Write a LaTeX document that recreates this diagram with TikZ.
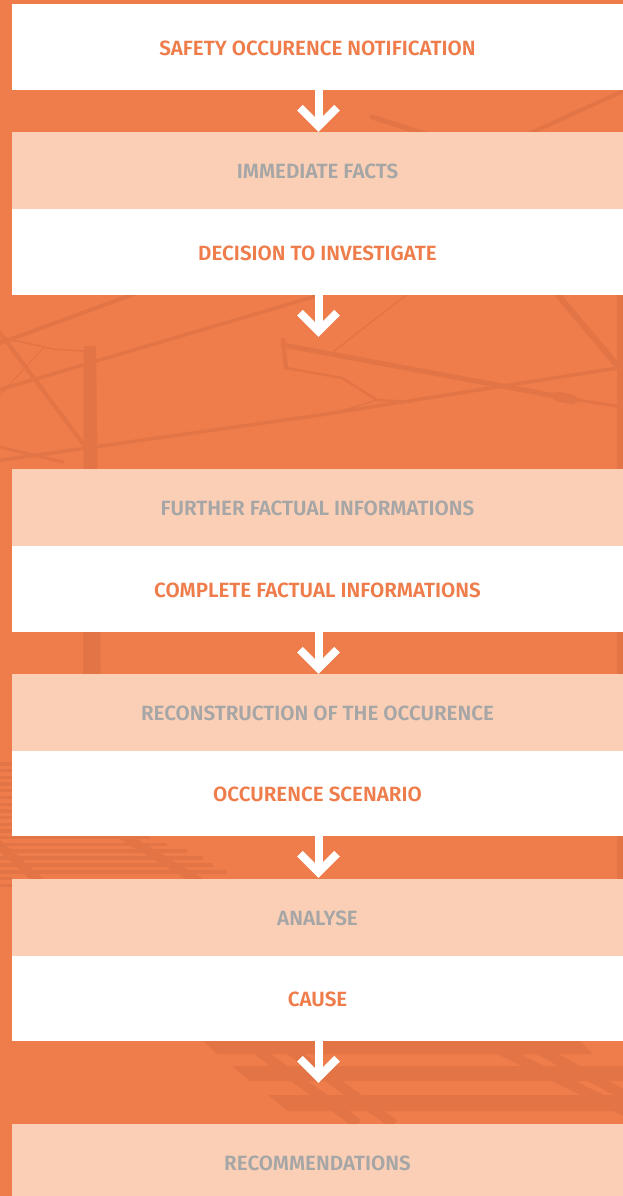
\documentclass[tikz,border=0pt]{standalone}
\usepackage{fontspec}
\usepackage{tikz}
\usetikzlibrary{calc}

\newfontfamily\boxfont{Fira Sans SemiBold}

\definecolor{bgOrange}{HTML}{EF7D4B}
\definecolor{boxPeach}{HTML}{FACFB6}
\definecolor{labelGrey}{HTML}{A6A6A6}
\definecolor{railShade}{HTML}{E37446}

\tikzset{
    whitebox/.style={fill=white, minimum width=611pt, minimum height=86pt, inner sep=0pt,
        text height=16.5pt, text depth=0pt,
        font={\boxfont\fontsize{20.6}{20.6}\selectfont}, text=bgOrange},
    peachbox/.style={fill=boxPeach, minimum width=611pt, minimum height=77pt, inner sep=0pt,
        text height=16.5pt, text depth=0pt,
        font={\boxfont\fontsize{20.6}{20.6}\selectfont}, text=labelGrey},
    stem/.style={draw=white, line width=8pt},
    chevron/.style={draw=white, line width=8pt, line join=miter},
    wire/.style={draw=railShade, line cap=round},
    tie/.style={draw=railShade, line width=3.3pt},
    rail/.style={draw=railShade, line width=10pt}
}

\begin{document}
\begin{tikzpicture}[x=1pt, y=-1pt]
        \useasboundingbox (0,0) rectangle (623,1196);
        \fill[bgOrange] (0,0) rectangle (623,1196);

        % catenary in the background
        \draw[wire, line width=5pt] (372,117) -- (432,136);
        \draw[wire, line width=4pt] (515,140) -- (630,88);
        \draw[wire, line width=4pt] (-5,345) -- (145,290);
        \draw[wire, line width=4pt] (-5,326) -- (84,445);
        \fill[railShade] (84,346) -- (96,346) -- (101,700) -- (83,700) -- cycle;
        \draw[wire, line width=3.5pt] (-5,391) -- (330,292);
        \draw[wire, line width=3.5pt] (-5,461) -- (320,415) -- (630,366);
        \draw[wire, line width=1.5pt] (0,340) -- (17,341) -- (53,349) -- (84,351);
        \draw[wire, line width=1pt] (44,347) -- (0,395);
        \draw[wire, line width=3pt] (-5,446) -- (63,462);
        \draw[wire, line width=5pt] (283,345) -- (577,400);
        \draw[wire, line width=10pt] (558,396.7) -- (572,399.3);
        \draw[wire, line width=3pt] (577,400) -- (630,408);
        \draw[wire, line width=4pt] (283,340) -- (286,368);
        \draw[wire, line width=2.5pt] (286,368) -- (342,378) -- (377,400) -- (412,402);
        \draw[wire, line width=1.5pt] (377,400) -- (338,412);
        \draw[wire, line width=6pt] (552,288) -- (615,363);
        \draw[wire, line width=1.5pt] (333,352) -- (410,292);
        \fill[railShade] (617,290) rectangle (623,885);

        % track on the left
        \draw[tie] (0,764) -- (12,764);
        \draw[tie] (0,770.7) -- (12,770.7);
        \draw[tie] (0,777.4) -- (12,777.4);
        \draw[tie] (0,784.1) -- (12,784.1);
        \draw[tie] (0,790.8) -- (12,790.8);
        \draw[tie] (0,797.5) -- (12,797.5);
        \draw[tie] (0,804.2) -- (12,804.2);
        \draw[tie] (0,810.9) -- (12,810.9);
        \draw[tie] (0,817.6) -- (12,817.6);
        \draw[tie] (0,824.3) -- (12,824.3);
        \draw[tie] (0,831) -- (12,831);
        \draw[tie] (0,837.5) -- (150,837.5);
        \draw[tie] (0,844.2) -- (167,844.2);
        \draw[tie] (0,851) -- (187,851);
        \draw[tie] (0,858) -- (203,858);
        \draw[tie] (0,865) -- (213,865);
        \draw[tie] (0,872) -- (227,872);
        \draw[tie] (0,878.7) -- (12,878.7);
        \draw[tie] (0,885.4) -- (12,885.4);
        \draw[rail, line width=9pt] (-3,843) -- (40,882);
        \draw[rail, line width=9pt] (118,833) -- (200,882);

        % track at the bottom
        \fill[railShade] (203,1041) -- (580,1041) -- (593,1054) -- (217,1054) -- cycle;
        \fill[railShade] (232,1066) -- (623,1066) -- (623,1081) -- (250,1081) -- cycle;
        \fill[railShade] (268,1095) -- (623,1095) -- (623,1111) -- (288,1111) -- cycle;
        \draw[rail] (245,1041) -- (358,1124);
        \draw[rail] (277,1041) -- (394,1124);
        \draw[rail] (482,1041) -- (651,1124);
        \draw[rail] (522,1041) -- (680,1124);

        % steps
        \node[whitebox] (notif) at (317.5,47) {SAFETY OCCURENCE NOTIFICATION};
        \node[peachbox] (facts) at (317.5,170.5) {IMMEDIATE FACTS};
        \node[whitebox] (decide) at (317.5,252) {DECISION TO INVESTIGATE};
        \node[peachbox] (further) at (317.5,507.5) {FURTHER FACTUAL INFORMATIONS};
        \node[whitebox] (complete) at (317.5,589) {COMPLETE FACTUAL INFORMATIONS};
        \node[peachbox] (reconstr) at (317.5,712.5) {RECONSTRUCTION OF THE OCCURENCE};
        \node[whitebox, minimum height=85pt] (scenario) at (317.5,793.5) {OCCURENCE SCENARIO};
        \node[peachbox] (analyse) at (317.5,917.5) {ANALYSE};
        \node[whitebox, minimum height=85pt] (cause) at (317.5,998.5) {CAUSE};
        \node[peachbox, minimum height=72pt, text height=20pt] (recomm) at (317.5,1160) {RECOMMENDATIONS};

        % arrows
        \coordinate (tip1) at ($(notif.south)+(1,36)$);
        \coordinate (tip2) at ($(decide.south)+(1,36)$);
        \coordinate (tip3) at ($(complete.south)+(1,36)$);
        \coordinate (tip4) at ($(scenario.south)+(1,36)$);
        \coordinate (tip5) at ($(cause.south)+(1,36)$);
        \draw[stem] ($(notif.south)+(1,0)$) -- (tip1);
        \draw[stem] ($(decide.south)+(1,0)$) -- (tip2);
        \draw[stem] ($(complete.south)+(1,0)$) -- (tip3);
        \draw[stem] ($(scenario.south)+(1,0)$) -- (tip4);
        \draw[stem] ($(cause.south)+(1,0)$) -- (tip5);
        \draw[chevron] ($(tip1)+(-18.5,-18.5)$) -- (tip1) -- ($(tip1)+(18.5,-18.5)$);
        \draw[chevron] ($(tip2)+(-18.5,-18.5)$) -- (tip2) -- ($(tip2)+(18.5,-18.5)$);
        \draw[chevron] ($(tip3)+(-18.5,-18.5)$) -- (tip3) -- ($(tip3)+(18.5,-18.5)$);
        \draw[chevron] ($(tip4)+(-18.5,-18.5)$) -- (tip4) -- ($(tip4)+(18.5,-18.5)$);
        \draw[chevron] ($(tip5)+(-18.5,-18.5)$) -- (tip5) -- ($(tip5)+(18.5,-18.5)$);
    \end{tikzpicture}
\end{document}
